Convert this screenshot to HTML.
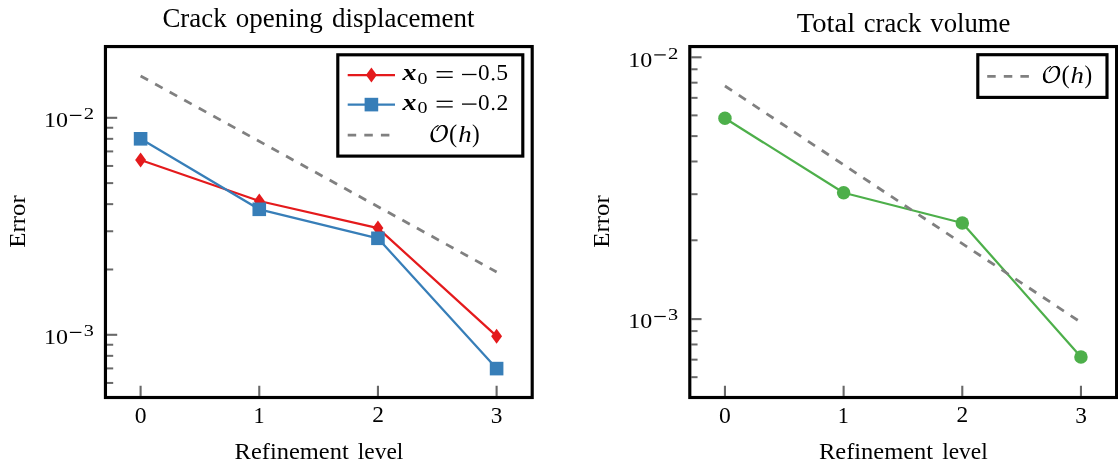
<!DOCTYPE html>
<html><head><meta charset="utf-8"><title>Convergence plots</title>
<style>html,body{margin:0;padding:0;background:#fff;}body{width:1118px;height:468px;overflow:hidden;font-family:"Liberation Serif",serif;}svg{display:block}</style></head>
<body>
<svg width="1118" height="468" viewBox="0 0 1118 468" style="display:block">
<rect width="1118" height="468" fill="#fff"/>
<line x1="107.00" y1="117.80" x2="117.20" y2="117.80" stroke="#686868" stroke-width="2.1"/>
<line x1="107.00" y1="334.80" x2="117.20" y2="334.80" stroke="#686868" stroke-width="2.1"/>
<line x1="107.00" y1="269.48" x2="113.20" y2="269.48" stroke="#686868" stroke-width="2.0"/>
<line x1="107.00" y1="231.26" x2="113.20" y2="231.26" stroke="#686868" stroke-width="2.0"/>
<line x1="107.00" y1="204.15" x2="113.20" y2="204.15" stroke="#686868" stroke-width="2.0"/>
<line x1="107.00" y1="183.12" x2="113.20" y2="183.12" stroke="#686868" stroke-width="2.0"/>
<line x1="107.00" y1="165.94" x2="113.20" y2="165.94" stroke="#686868" stroke-width="2.0"/>
<line x1="107.00" y1="151.41" x2="113.20" y2="151.41" stroke="#686868" stroke-width="2.0"/>
<line x1="107.00" y1="138.83" x2="113.20" y2="138.83" stroke="#686868" stroke-width="2.0"/>
<line x1="107.00" y1="127.73" x2="113.20" y2="127.73" stroke="#686868" stroke-width="2.0"/>
<line x1="107.00" y1="382.94" x2="113.20" y2="382.94" stroke="#686868" stroke-width="2.0"/>
<line x1="107.00" y1="368.41" x2="113.20" y2="368.41" stroke="#686868" stroke-width="2.0"/>
<line x1="107.00" y1="355.83" x2="113.20" y2="355.83" stroke="#686868" stroke-width="2.0"/>
<line x1="107.00" y1="344.73" x2="113.20" y2="344.73" stroke="#686868" stroke-width="2.0"/>
<line x1="140.60" y1="395.95" x2="140.60" y2="385.75" stroke="#686868" stroke-width="2.1"/>
<line x1="259.27" y1="395.95" x2="259.27" y2="385.75" stroke="#686868" stroke-width="2.1"/>
<line x1="377.94" y1="395.95" x2="377.94" y2="385.75" stroke="#686868" stroke-width="2.1"/>
<line x1="496.61" y1="395.95" x2="496.61" y2="385.75" stroke="#686868" stroke-width="2.1"/>
<polyline points="140.60,160.00 259.27,201.00 377.94,228.10 496.61,336.20" fill="none" stroke="#e41a1c" stroke-width="2.25" stroke-linejoin="round"/>
<polygon points="140.60,152.50 146.05,160.00 140.60,167.50 135.15,160.00" fill="#e41a1c"/>
<polygon points="259.27,193.50 264.72,201.00 259.27,208.50 253.82,201.00" fill="#e41a1c"/>
<polygon points="377.94,220.60 383.39,228.10 377.94,235.60 372.49,228.10" fill="#e41a1c"/>
<polygon points="496.61,328.70 502.06,336.20 496.61,343.70 491.16,336.20" fill="#e41a1c"/>
<polyline points="140.60,138.80 259.27,209.30 377.94,238.30 496.61,368.60" fill="none" stroke="#377eb8" stroke-width="2.25" stroke-linejoin="round"/>
<rect x="133.80" y="132.00" width="13.6" height="13.6" fill="#377eb8"/>
<rect x="252.47" y="202.50" width="13.6" height="13.6" fill="#377eb8"/>
<rect x="371.14" y="231.50" width="13.6" height="13.6" fill="#377eb8"/>
<rect x="489.81" y="361.80" width="13.6" height="13.6" fill="#377eb8"/>
<line x1="140.60" y1="76.00" x2="496.61" y2="271.97" stroke="#808080" stroke-width="2.8" stroke-dasharray="8.5 8.1"/>
<rect x="105.45" y="46.55" width="426.75" height="350.95" fill="none" stroke="#000" stroke-width="3.15"/>
<rect x="337.8" y="54.8" width="185.0" height="101.3" fill="#fff" stroke="#000" stroke-width="3.15"/>
<line x1="347.7" y1="75.0" x2="395.0" y2="75.0" stroke="#e41a1c" stroke-width="2.25"/>
<polygon points="371.40,67.50 376.85,75.00 371.40,82.50 365.95,75.00" fill="#e41a1c"/>
<line x1="347.7" y1="104.6" x2="395.0" y2="104.6" stroke="#377eb8" stroke-width="2.25"/>
<rect x="364.60" y="97.80" width="13.6" height="13.6" fill="#377eb8"/>
<line x1="347.7" y1="135.1" x2="395.0" y2="135.1" stroke="#808080" stroke-width="2.8" stroke-dasharray="8.5 8.1"/>
<line x1="691.35" y1="57.30" x2="701.55" y2="57.30" stroke="#686868" stroke-width="2.1"/>
<line x1="691.35" y1="319.10" x2="701.55" y2="319.10" stroke="#686868" stroke-width="2.1"/>
<line x1="691.35" y1="240.29" x2="697.55" y2="240.29" stroke="#686868" stroke-width="2.0"/>
<line x1="691.35" y1="194.19" x2="697.55" y2="194.19" stroke="#686868" stroke-width="2.0"/>
<line x1="691.35" y1="161.48" x2="697.55" y2="161.48" stroke="#686868" stroke-width="2.0"/>
<line x1="691.35" y1="136.11" x2="697.55" y2="136.11" stroke="#686868" stroke-width="2.0"/>
<line x1="691.35" y1="115.38" x2="697.55" y2="115.38" stroke="#686868" stroke-width="2.0"/>
<line x1="691.35" y1="97.85" x2="697.55" y2="97.85" stroke="#686868" stroke-width="2.0"/>
<line x1="691.35" y1="82.67" x2="697.55" y2="82.67" stroke="#686868" stroke-width="2.0"/>
<line x1="691.35" y1="69.28" x2="697.55" y2="69.28" stroke="#686868" stroke-width="2.0"/>
<line x1="691.35" y1="377.18" x2="697.55" y2="377.18" stroke="#686868" stroke-width="2.0"/>
<line x1="691.35" y1="359.65" x2="697.55" y2="359.65" stroke="#686868" stroke-width="2.0"/>
<line x1="691.35" y1="344.47" x2="697.55" y2="344.47" stroke="#686868" stroke-width="2.0"/>
<line x1="691.35" y1="331.08" x2="697.55" y2="331.08" stroke="#686868" stroke-width="2.0"/>
<line x1="724.95" y1="395.95" x2="724.95" y2="385.75" stroke="#686868" stroke-width="2.1"/>
<line x1="843.62" y1="395.95" x2="843.62" y2="385.75" stroke="#686868" stroke-width="2.1"/>
<line x1="962.29" y1="395.95" x2="962.29" y2="385.75" stroke="#686868" stroke-width="2.1"/>
<line x1="1080.96" y1="395.95" x2="1080.96" y2="385.75" stroke="#686868" stroke-width="2.1"/>
<polyline points="724.95,118.30 843.62,192.75 962.29,223.00 1080.96,357.00" fill="none" stroke="#4daf4a" stroke-width="2.25" stroke-linejoin="round"/>
<circle cx="724.95" cy="118.30" r="6.75" fill="#4daf4a"/>
<circle cx="843.62" cy="192.75" r="6.75" fill="#4daf4a"/>
<circle cx="962.29" cy="223.00" r="6.75" fill="#4daf4a"/>
<circle cx="1080.96" cy="357.00" r="6.75" fill="#4daf4a"/>
<line x1="724.95" y1="86.00" x2="1080.96" y2="322.43" stroke="#808080" stroke-width="2.8" stroke-dasharray="8.5 8.1"/>
<rect x="689.80" y="46.55" width="426.80" height="350.95" fill="none" stroke="#000" stroke-width="3.15"/>
<rect x="977.8" y="54.7" width="129.2" height="42.7" fill="#fff" stroke="#000" stroke-width="3.15"/>
<line x1="987.2" y1="76.35" x2="1034.5" y2="76.35" stroke="#808080" stroke-width="2.8" stroke-dasharray="8.5 8.1"/>
<g style="opacity:0.999"><text transform="translate(162.40,26.70) scale(1.0190,1)" font-size="26.4" font-family="Liberation Serif, serif" >Crack</text>
<text transform="translate(235.70,26.70) scale(1.0224,1)" font-size="26.4" font-family="Liberation Serif, serif" >opening</text>
<text transform="translate(332.10,26.70) scale(1.0221,1)" font-size="26.4" font-family="Liberation Serif, serif" >displacement</text>
<text transform="translate(796.80,31.80) scale(1.0849,1)" font-size="26.4" font-family="Liberation Serif, serif" >Total</text>
<text transform="translate(863.80,31.80) scale(1.0088,1)" font-size="26.4" font-family="Liberation Serif, serif" >crack</text>
<text transform="translate(930.30,31.80) scale(1.0127,1)" font-size="26.4" font-family="Liberation Serif, serif" >volume</text>
<text transform="translate(234.60,458.80) scale(1.0876,1)" font-size="22.5" font-family="Liberation Serif, serif" >Refinement</text>
<text transform="translate(357.80,458.80) scale(1.0419,1)" font-size="22.5" font-family="Liberation Serif, serif" >level</text>
<text transform="translate(818.95,458.80) scale(1.0876,1)" font-size="22.5" font-family="Liberation Serif, serif" >Refinement</text>
<text transform="translate(942.15,458.80) scale(1.0419,1)" font-size="22.5" font-family="Liberation Serif, serif" >level</text>
<text transform="translate(24.70,247.80) rotate(-90) scale(1.1063,1)" font-size="22.5" font-family="Liberation Serif, serif" >Error</text>
<text transform="translate(609.05,247.80) rotate(-90) scale(1.1063,1)" font-size="22.5" font-family="Liberation Serif, serif" >Error</text>
<text transform="translate(134.69,422.54) scale(1.0237,1)" font-size="23.09" font-family="Liberation Serif, serif" >0</text>
<text transform="translate(253.49,422.60) scale(0.9586,1)" font-size="23.18" font-family="Liberation Serif, serif" >1</text>
<text transform="translate(372.20,422.37) scale(1.0253,1)" font-size="22.84" font-family="Liberation Serif, serif" >2</text>
<text transform="translate(490.78,422.77) scale(0.9958,1)" font-size="23.43" font-family="Liberation Serif, serif" >3</text>
<text transform="translate(719.04,422.54) scale(1.0237,1)" font-size="23.09" font-family="Liberation Serif, serif" >0</text>
<text transform="translate(837.84,422.60) scale(0.9586,1)" font-size="23.18" font-family="Liberation Serif, serif" >1</text>
<text transform="translate(956.55,422.37) scale(1.0253,1)" font-size="22.84" font-family="Liberation Serif, serif" >2</text>
<text transform="translate(1075.13,422.77) scale(0.9958,1)" font-size="23.43" font-family="Liberation Serif, serif" >3</text>
<text transform="translate(43.88,127.06) scale(1.0974,1)" font-size="21.91" font-family="Liberation Serif, serif" >10</text>
<rect x="69.90" y="114.80" width="11.5" height="1.2" fill="#000"/>
<text transform="translate(83.67,119.13) scale(1.2292,1)" font-size="16.87" font-family="Liberation Serif, serif" >2</text>
<text transform="translate(43.88,344.06) scale(1.0974,1)" font-size="21.91" font-family="Liberation Serif, serif" >10</text>
<rect x="69.90" y="331.80" width="11.5" height="1.2" fill="#000"/>
<text transform="translate(83.69,336.13) scale(1.2000,1)" font-size="16.87" font-family="Liberation Serif, serif" >3</text>
<text transform="translate(628.23,66.56) scale(1.0974,1)" font-size="21.91" font-family="Liberation Serif, serif" >10</text>
<rect x="654.25" y="54.30" width="11.5" height="1.2" fill="#000"/>
<text transform="translate(668.02,58.63) scale(1.2292,1)" font-size="16.87" font-family="Liberation Serif, serif" >2</text>
<text transform="translate(628.23,328.16) scale(1.0974,1)" font-size="21.91" font-family="Liberation Serif, serif" >10</text>
<rect x="654.25" y="315.90" width="11.5" height="1.2" fill="#000"/>
<text transform="translate(668.04,320.23) scale(1.2000,1)" font-size="16.87" font-family="Liberation Serif, serif" >3</text>
<text transform="translate(402.46,80.40) scale(1.2037,1)" font-size="23.26" font-family="Liberation Serif, serif" font-style="italic" font-weight="bold">x</text>
<text transform="translate(417.40,83.65) scale(1.1333,1)" font-size="17.65" font-family="Liberation Serif, serif" >0</text>
<rect x="436.6" y="71.05" width="16.1" height="1.3" fill="#000"/>
<rect x="436.6" y="76.65" width="16.1" height="1.3" fill="#000"/>
<rect x="462.0" y="73.85" width="14.5" height="1.3" fill="#000"/>
<text transform="translate(477.90,80.16) scale(1.0439,1)" font-size="22.21" font-family="Liberation Serif, serif" >0</text>
<circle cx="493.1" cy="79.30" r="1.25" fill="#000"/>
<text transform="translate(496.22,80.37) scale(1.0341,1)" font-size="22.88" font-family="Liberation Serif, serif" >5</text>
<text transform="translate(402.46,110.00) scale(1.2037,1)" font-size="23.26" font-family="Liberation Serif, serif" font-style="italic" font-weight="bold">x</text>
<text transform="translate(417.40,113.25) scale(1.1333,1)" font-size="17.65" font-family="Liberation Serif, serif" >0</text>
<rect x="436.6" y="100.65" width="16.1" height="1.3" fill="#000"/>
<rect x="436.6" y="106.25" width="16.1" height="1.3" fill="#000"/>
<rect x="462.0" y="103.45" width="14.5" height="1.3" fill="#000"/>
<text transform="translate(477.90,109.76) scale(1.0439,1)" font-size="22.21" font-family="Liberation Serif, serif" >0</text>
<circle cx="493.1" cy="108.90" r="1.25" fill="#000"/>
<text transform="translate(496.45,109.97) scale(1.0497,1)" font-size="22.54" font-family="Liberation Serif, serif" >2</text>
<g transform="translate(0.00,0.00)"><path d="M1050.6,66.5 C1046.5,68.4 1043.4,72.6 1043.4,76.8 C1043.4,80.4 1045.5,82.6 1048.8,82.6 C1054.5,82.6 1059.7,77.5 1059.7,71.8 C1059.7,68.4 1058.0,66.4 1055.2,66.4 C1052.6,66.4 1050.4,68.8 1049.3,71.4" fill="none" stroke="#000" stroke-width="1.05" stroke-linecap="round"/><path d="M1046.0,69.4 C1044.2,71.8 1043.2,74.4 1043.2,76.8 C1043.2,80.6 1045.4,82.9 1048.8,82.9 C1050.0,82.9 1051.0,82.7 1052.0,82.3 C1048.0,82.6 1045.3,80.4 1045.3,76.7 C1045.3,74.2 1045.5,71.8 1046.0,69.4 Z" fill="#000"/><path d="M1053.0,81.9 C1057.0,79.8 1059.9,75.8 1059.9,71.8 C1059.9,68.3 1058.0,66.1 1055.2,66.1 C1054.4,66.1 1053.6,66.3 1052.9,66.7 C1056.2,66.4 1057.8,68.6 1057.8,71.9 C1057.8,75.5 1056.0,79.3 1053.0,81.9 Z" fill="#000"/><path d="M1051.9,67.6 C1050.6,68.7 1049.6,70.2 1049.0,71.7 C1049.3,72.0 1049.8,72.0 1050.0,71.6 C1050.5,70.2 1051.2,68.8 1051.9,67.6 Z" fill="#000"/></g>
<text transform="translate(1061.52,82.87) scale(1.0000,1)" font-size="24.44" font-family="Liberation Serif, serif" >(</text>
<text transform="translate(1070.60,82.57) scale(1.1701,1)" font-size="22.86" font-family="Liberation Serif, serif" font-style="italic">h</text>
<text transform="translate(1084.51,82.87) scale(0.9441,1)" font-size="24.44" font-family="Liberation Serif, serif" >)</text>
<g transform="translate(-612.40,59.10)"><path d="M1050.6,66.5 C1046.5,68.4 1043.4,72.6 1043.4,76.8 C1043.4,80.4 1045.5,82.6 1048.8,82.6 C1054.5,82.6 1059.7,77.5 1059.7,71.8 C1059.7,68.4 1058.0,66.4 1055.2,66.4 C1052.6,66.4 1050.4,68.8 1049.3,71.4" fill="none" stroke="#000" stroke-width="1.05" stroke-linecap="round"/><path d="M1046.0,69.4 C1044.2,71.8 1043.2,74.4 1043.2,76.8 C1043.2,80.6 1045.4,82.9 1048.8,82.9 C1050.0,82.9 1051.0,82.7 1052.0,82.3 C1048.0,82.6 1045.3,80.4 1045.3,76.7 C1045.3,74.2 1045.5,71.8 1046.0,69.4 Z" fill="#000"/><path d="M1053.0,81.9 C1057.0,79.8 1059.9,75.8 1059.9,71.8 C1059.9,68.3 1058.0,66.1 1055.2,66.1 C1054.4,66.1 1053.6,66.3 1052.9,66.7 C1056.2,66.4 1057.8,68.6 1057.8,71.9 C1057.8,75.5 1056.0,79.3 1053.0,81.9 Z" fill="#000"/><path d="M1051.9,67.6 C1050.6,68.7 1049.6,70.2 1049.0,71.7 C1049.3,72.0 1049.8,72.0 1050.0,71.6 C1050.5,70.2 1051.2,68.8 1051.9,67.6 Z" fill="#000"/></g>
<text transform="translate(449.12,141.97) scale(1.0000,1)" font-size="24.44" font-family="Liberation Serif, serif" >(</text>
<text transform="translate(458.20,141.67) scale(1.1701,1)" font-size="22.86" font-family="Liberation Serif, serif" font-style="italic">h</text>
<text transform="translate(472.11,141.97) scale(0.9441,1)" font-size="24.44" font-family="Liberation Serif, serif" >)</text></g>
</svg>
</body></html>
